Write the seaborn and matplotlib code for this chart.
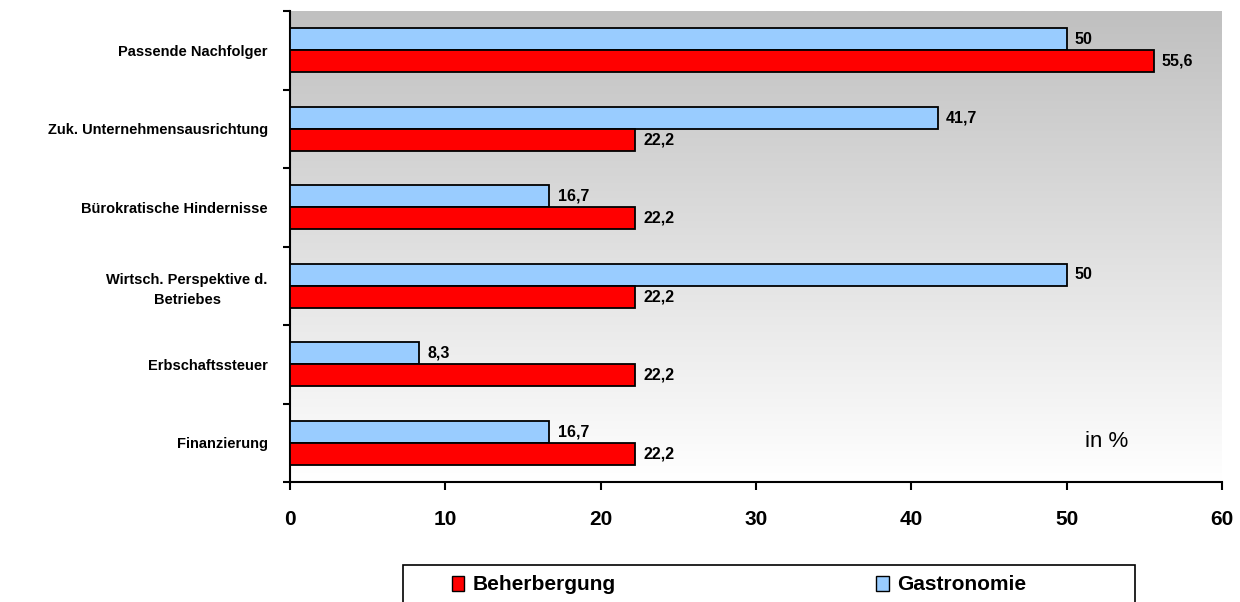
import numpy as np
import pandas as pd
import matplotlib
matplotlib.use('Agg')
import matplotlib.pyplot as plt
import seaborn as sns
from matplotlib.patches import Rectangle, Patch

categories = ["Passende Nachfolger", "Zuk. Unternehmensausrichtung", "Bürokratische Hindernisse",
              "Wirtsch. Perspektive d.\nBetriebes", "Erbschaftssteuer", "Finanzierung"]
beherbergung = [55.6, 22.2, 22.2, 22.2, 22.2, 22.2]
gastronomie = [50, 41.7, 16.7, 50, 8.3, 16.7]
x_ticks = [0, 10, 20, 30, 40, 50, 60]

sns.set_style('white')
plt.rcParams['font.family'] = ['Liberation Sans', 'DejaVu Sans']
plt.rcParams['text.color'] = 'black'
plt.rcParams['xtick.color'] = 'black'
plt.rcParams['ytick.color'] = 'black'
plt.rcParams['axes.labelcolor'] = 'black'

df = pd.DataFrame({
    'Kategorie': categories * 2,
    'Wert': gastronomie + beherbergung,
    'Gruppe': ['Gastronomie'] * len(categories) + ['Beherbergung'] * len(categories),
})
colors = {'Gastronomie': '#99CCFF', 'Beherbergung': '#FF0000'}

fig = plt.figure(figsize=(12.4, 6.02), dpi=100)
ax = fig.add_axes([290 / 1240, 1 - 482 / 602, 932 / 1240, 471 / 602])

sns.barplot(data=df, y='Kategorie', x='Wert', hue='Gruppe',
            hue_order=['Gastronomie', 'Beherbergung'], palette=colors, saturation=1,
            width=0.56, edgecolor='black', linewidth=1.3, ax=ax, legend=False, zorder=3)

grad = np.linspace(192, 255, 256) / 255
img = np.dstack([grad] * 3).reshape(256, 1, 3)
ax.imshow(img, extent=[0, 1, 0, 1], transform=ax.transAxes, aspect='auto', zorder=0)

ax.set_xlim(0, 60)
ax.set_ylim(5.5, -0.5)
ax.set_xlabel('')
ax.set_ylabel('')
ax.grid(False)

ax.set_xticks(x_ticks)
ax.set_xticklabels([str(t) for t in x_ticks], fontsize=15, fontweight='bold')
ax.tick_params(axis='x', bottom=True, length=6, width=1.5, direction='out', pad=14, color='black')

ax.set_yticks(range(len(categories)))
ax.set_yticklabels(categories, fontsize=10.5, fontweight='bold', multialignment='center',
                   linespacing=1.5)
ax.tick_params(axis='y', which='major', length=0, pad=16)
ax.set_yticks(np.arange(-0.5, len(categories), 1), minor=True)
ax.tick_params(axis='y', which='minor', length=5, width=1.5, direction='out', color='black', left=True)

for s in ['top', 'right']:
    ax.spines[s].set_visible(False)
for s in ['left', 'bottom']:
    ax.spines[s].set_color('black')
    ax.spines[s].set_linewidth(1.5)


def fmt(v):
    return f"{v:g}".replace('.', ',')


for cont, vals in zip(ax.containers, [gastronomie, beherbergung]):
    ax.bar_label(cont, labels=[fmt(v) for v in vals], padding=6, fontsize=11.5,
                 fontweight='bold', color='black')

ax.text(0.853, 0.087, 'in %', transform=ax.transAxes, fontsize=16, va='center', ha='left',
        color='black')

handles = [Patch(facecolor=colors['Beherbergung'], edgecolor='black', label='Beherbergung'),
           Patch(facecolor=colors['Gastronomie'], edgecolor='black', label='Gastronomie')]
fig.legend(handles=handles, loc='center left', bbox_to_anchor=(433 / 1240, 1 - 585 / 602),
           ncol=2, frameon=False, prop={'weight': 'bold', 'size': 15},
           handlelength=0.6, handleheight=0.75, handletextpad=0.4, columnspacing=12.5)
fig.add_artist(Rectangle((403 / 1240, -0.05), 732 / 1240, (602 - 565) / 602 + 0.05,
                         transform=fig.transFigure, fill=False, edgecolor='black', lw=1.2))

fig.savefig('out.png', dpi=100)
